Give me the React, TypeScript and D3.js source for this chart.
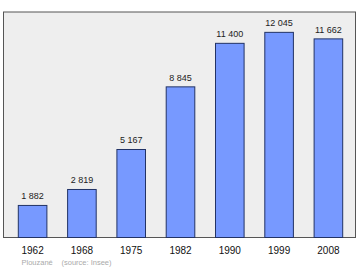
import React from "react";
import * as d3 from "d3";

const years = ["1962", "1968", "1975", "1982", "1990", "1999", "2008"];
const population = [1882, 2819, 5167, 8845, 11400, 12045, 11662];
const valueLabels = ["1 882", "2 819", "5 167", "8 845", "11 400", "12 045", "11 662"];
const footerPlace = "Plouzané";
const footerSource = "(source: Insee)";

const W = 360;
const H = 270;
const frame = { left: 3.5, top: 12, right: 355.5, bottom: 237.5 };

export default function App() {
  const x = d3
    .scaleBand<string>()
    .domain(years)
    .range([frame.left + 1, frame.right + 1])
    .paddingInner(0.42)
    .paddingOuter(0.28);
  const y = d3.scaleLinear().domain([0, 13240]).range([frame.bottom, frame.top]);
  const font = "'Liberation Sans', Arial, sans-serif";

  return (
    <svg
      width={W}
      height={H}
      style={{ position: "absolute", left: 0, top: 0, background: "#ffffff" }}
      fontFamily={font}
    >
      <rect
        x={frame.left}
        y={frame.top}
        width={frame.right - frame.left}
        height={frame.bottom - frame.top}
        fill="#eeeeee"
        stroke="#555555"
        strokeWidth={1}
      />
      {years.map((yr, i) => {
        const bx = x(yr)!;
        const by = y(population[i]);
        return (
          <g key={yr}>
            <rect
              x={bx}
              y={by}
              width={x.bandwidth()}
              height={y(0) - by}
              fill="#7799ff"
              stroke="#223366"
              strokeWidth={1}
            />
            <text
              x={bx + x.bandwidth() / 2}
              y={by - 6}
              textAnchor="middle"
              fontSize={9}
              fill="#222222"
            >
              {valueLabels[i]}
            </text>
            <text
              x={bx + x.bandwidth() / 2}
              y={254}
              textAnchor="middle"
              fontSize={10}
              fill="#111111"
            >
              {yr}
            </text>
          </g>
        );
      })}
      <text x={21.5} y={265} fontSize={7.5} fill="#aaaaaa">
        {footerPlace}
      </text>
      <text x={61.5} y={265} fontSize={7.5} fill="#aaaaaa">
        {footerSource}
      </text>
    </svg>
  );
}
